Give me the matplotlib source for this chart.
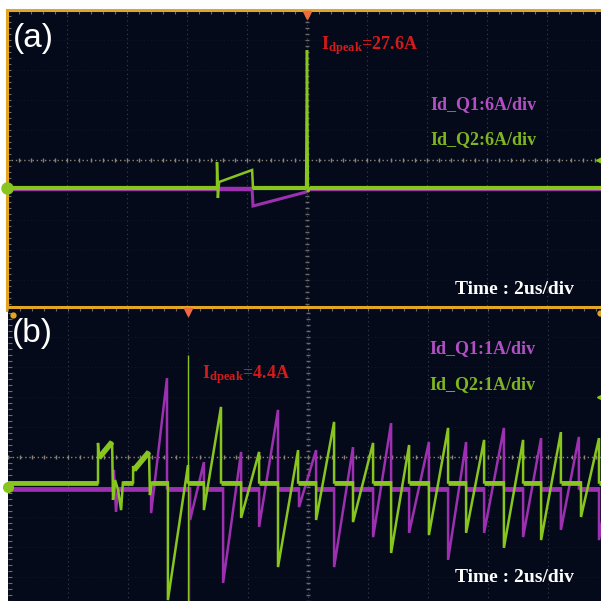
import numpy as np
import matplotlib.pyplot as plt

plt.rcParams['mathtext.fontset'] = 'custom'
plt.rcParams['mathtext.rm'] = 'Liberation Serif'
plt.rcParams['mathtext.bf'] = 'Liberation Serif:bold'

# ---- panel (a): Id in A, time in us (6A/div, 2us/div) ----
a_q2_t = [-10.0, -3.0, -3.0, -2.97, -2.93, -1.83, -1.8, -0.03, 0.0, 0.03, 0.1, 10.5]
a_q2_i = [0.0, 0.0, 5.2, -2.0, 1.2, 3.6, 0.0, 0.0, 27.6, -0.8, 0.0, 0.0]
a_q1_t = [-10.0, -1.83, -1.8, -0.03, 0.07, 10.5]
a_q1_i = [-0.2, -0.2, -3.6, -0.8, -0.2, -0.2]

# ---- panel (b): 1A/div, 2us/div ----
# start-up part of Q2 before the regular switching
b_q2_t0 = [-10.0, -7.0, -7.0, -6.97, -6.53, -6.5, -6.43, -6.33, -6.23, -6.17,
           -5.83, -5.83, -5.8, -5.3, -5.27, -5.2]
b_q2_i0 = [0.15, 0.15, 1.47, 0.97, 1.5, -0.43, 0.23, -0.1, -0.77, 0.15,
           0.15, 0.7, 0.57, 1.17, -0.27, 0.15]
b_q1_t0 = [-10.0, -6.5, -6.47, -6.4, -6.33]
b_q1_i0 = [-0.05, -0.05, 0.57, -0.83, -0.05]

# sawtooth ramps: start time, current at start, end time, current at end
q2_start = [-4.67, -3.47, -2.23, -1.0, 0.27, 1.5, 2.77, 4.03, 5.27, 6.53, 7.77, 9.1]
q2_low = [-3.77, -0.77, -1.03, -2.67, -1.1, -1.17, -2.2, -1.6, -1.53, -2.03, -1.77, -1.0]
q2_end = [-4.0, -2.9, -1.63, -0.33, 0.87, 2.17, 3.37, 4.67, 5.87, 7.17, 8.43, 9.7]
q2_peak = [0.73, 2.67, 1.17, 1.23, 2.17, 1.47, 1.4, 1.97, 1.57, 1.57, 1.83, 1.63]

q1_start = [-5.23, -3.93, -2.83, -1.63, -0.3, 0.87, 2.17, 3.37, 4.67, 5.87, 7.17, 8.43, 9.7]
q1_low = [-0.87, -1.1, -3.2, -1.33, -0.67, -2.67, -1.67, -1.53, -2.43, -1.53, -1.67, -1.43, -1.77]
q1_end = [-4.7, -3.47, -2.23, -1.0, 0.27, 1.5, 2.77, 4.03, 5.27, 6.53, 7.77, 9.03, 10.3]
q1_peak = [3.63, 0.83, 1.17, 2.57, 1.23, 1.33, 2.13, 1.5, 1.5, 1.97, 1.63, 1.67, 1.9]

# fast spikes at the peak event in (b): time, low, high
b_q2_spike = [-4.0, -3.8, 4.4]
b_q1_spike = [-3.97, -3.8, 0.0]

BG = '#050a1a'
GREEN = '#88c51f'
PURPLE = '#9c30b0'
ORANGE = '#e2a624'
W, H = 601, 601


def build(t0, i0, starts, lows, ends, peaks, base):
    t = list(t0)
    i = list(i0)
    for s, lo, e, p in zip(starts, lows, ends, peaks):
        t += [s, s, e, e]
        i += [base, lo, p, base]
    t.append(10.5)
    i.append(base)
    return np.array(t), np.array(i)


def draw_trace(ax, t, i, scale, off, color, base, lw, blw, z):
    y = np.asarray(i) / scale + off
    ax.plot(t, y, color=color, lw=lw, zorder=z, solid_joinstyle='miter')
    # idle level shows as a thick noisy band
    for k in range(len(t) - 1):
        if i[k] == base and i[k + 1] == base:
            ax.plot([t[k], t[k + 1]], [y[k], y[k + 1]], color=color,
                    lw=blw, zorder=z, solid_capstyle='butt')


def scope_axes(rect, trig_t):
    ax = fig.add_axes(rect)
    ax.set_facecolor(BG)
    ax.set_xlim(-10, 10)
    ax.set_ylim(-5, 5)
    for x in range(-8, 10, 2):
        ax.axvline(x, color='#3b4050', lw=0.8, ls=(0, (1, 3)), zorder=1)
    for yy in range(-4, 5):
        if yy != 0:
            ax.axhline(yy, color='#161b2b', lw=0.6, ls=(0, (1, 3)), zorder=1)
    ax.axhline(0, color='#8c8577', lw=1.0, ls=(0, (1, 2)), zorder=1)
    ax.plot(np.arange(-10, 10.01, 0.4), np.zeros(51), ls='none', marker='|',
            ms=3, color='#8c8577', zorder=1)
    ax.plot(np.zeros(51), np.arange(-5, 5.01, 0.2), ls='none', marker='_',
            ms=3, color='#6c6a66', zorder=1)
    ax.set_xticks(np.arange(-10, 11, 2))
    ax.set_yticks(np.arange(-5, 6, 1))
    ax.set_xticks(np.arange(-10, 10.1, 0.4), minor=True)
    ax.set_yticks(np.arange(-5, 5.1, 0.2), minor=True)
    ax.tick_params(which='both', direction='in', top=True, bottom=False,
                   right=False, left=True, labelleft=False, labelbottom=False,
                   color='#6c6a66', length=3, width=0.8)
    for s in ['bottom', 'right']:
        ax.spines[s].set_visible(False)
    ax.spines['top'].set_color(ORANGE)
    ax.spines['top'].set_linewidth(2.2)
    ax.plot([trig_t], [4.85], marker='v', ms=6, color='#f06a40',
            clip_on=False, zorder=6)
    return ax


def ftext(px, py, s, **kw):
    fig.text(px / W, 1 - py / H, s, va='center', ha='left', **kw)


fig = plt.figure(figsize=(6.01, 6.01), dpi=100, facecolor='white')

# panel (a)
ax_a = scope_axes([7 / W, 1 - 310 / H, 600 / W, 300 / H], 0.0)
ax_a.spines['left'].set_color(ORANGE)
ax_a.spines['left'].set_linewidth(2.2)
off_a = (160 - 188) / 30
draw_trace(ax_a, a_q1_t, a_q1_i, 6, off_a, PURPLE, -0.2, 2.2, 3.2, 3)
draw_trace(ax_a, a_q2_t, a_q2_i, 6, off_a, GREEN, 0.0, 1.8, 3.0, 4)
ax_a.plot([-10], [off_a], marker='o', ms=8, color=GREEN, clip_on=False, zorder=6)
ax_a.plot([9.75], [0.0], marker='<', ms=4, color=GREEN, zorder=6)

# panel (b)
ax_b = scope_axes([8 / W, 1 - 607 / H, 600 / W, 300 / H], -4.0)
ax_b.spines['left'].set_visible(False)
off_b = (457 - 487) / 30
t1, i1 = build(b_q1_t0, b_q1_i0, q1_start, q1_low, q1_end, q1_peak, -0.05)
t2, i2 = build(b_q2_t0, b_q2_i0, q2_start, q2_low, q2_end, q2_peak, 0.15)
draw_trace(ax_b, t1, i1, 1, off_b, PURPLE, -0.05, 1.8, 3.4, 3)
ax_b.plot([-6.97, -6.53], [0.97 + off_b, 1.5 + off_b], color=GREEN, lw=4,
          zorder=4, solid_capstyle='butt')
ax_b.plot([-5.8, -5.3], [0.57 + off_b, 1.17 + off_b], color=GREEN, lw=4,
          zorder=4, solid_capstyle='butt')
draw_trace(ax_b, t2, i2, 1, off_b, GREEN, 0.15, 1.8, 3.4, 4)
ax_b.vlines(b_q1_spike[0], b_q1_spike[1] + off_b, b_q1_spike[2] + off_b,
            color=PURPLE, lw=1.0, zorder=3)
ax_b.vlines(b_q2_spike[0], b_q2_spike[1] + off_b, b_q2_spike[2] + off_b,
            color=GREEN, lw=1.0, zorder=4)
ax_b.plot([-10], [off_b], marker='o', ms=7, color=GREEN, clip_on=False, zorder=6)
ax_b.plot([9.75], [2.0], marker='<', ms=4, color=GREEN, zorder=6)
ax_b.plot([-9.85], [4.75], marker='o', ms=3.5, color=ORANGE, zorder=6)
ax_b.plot([9.75], [4.8], marker='o', ms=3.5, color=ORANGE, zorder=6)

# labels
sans = dict(family='Liberation Sans', color='white', fontsize=24)
serif = dict(family='Liberation Serif', fontweight='bold', fontsize=13)
ftext(13, 38, '(a)', **sans)
ftext(12, 334, '(b)', **sans)
ftext(321, 46, r'$\mathbf{I_{dpeak}}$=27.6A', color='#d41a1a', **serif)
ftext(202, 375, r'$\mathbf{I_{dpeak}}$=4.4A', color='#d41a1a', **serif)
ftext(430, 105, 'Id_Q1:6A/div', color='#b34fc4', **serif)
ftext(430, 140, 'Id_Q2:6A/div', color='#7fb51f', **serif)
ftext(429, 349, 'Id_Q1:1A/div', color='#b34fc4', **serif)
ftext(429, 385, 'Id_Q2:1A/div', color='#7fb51f', **serif)
ftext(455, 289, 'Time : 2us/div', color='white', family='Liberation Serif',
      fontweight='bold', fontsize=14)
ftext(455, 578, 'Time : 2us/div', color='white', family='Liberation Serif',
      fontweight='bold', fontsize=14)

fig.savefig('out.png', dpi=100, facecolor='white')
